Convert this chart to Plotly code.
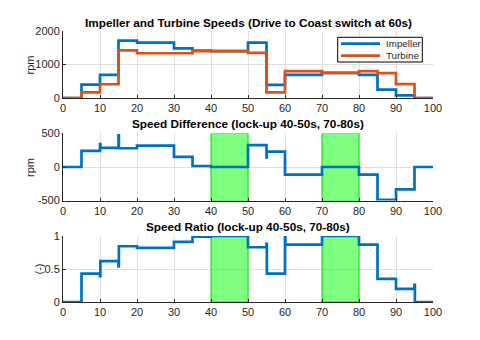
import plotly.graph_objects as go

# Segment boundaries (s) for the speed profiles
t_edges = [0, 5, 10, 15, 20, 30, 35, 40, 50, 55, 60, 70, 80, 85, 90, 95, 100]
# Speed held over each segment (rpm)
impeller_rpm = [0, 400, 690, 1710, 1650, 1480, 1415, 1400, 1650, 390, 690, 750, 690, 250, 80, 0]
turbine_rpm = [0, 170, 410, 1420, 1335, 1335, 1400, 1400, 1345, 170, 800, 750, 800, 740, 415, 0]

# Speed difference (rpm), sampled at each change point
diff_t = [0, 5, 10, 10.1, 15, 15.1, 20, 30, 35, 40, 50, 55, 55.1, 60, 70, 80, 85, 90, 95, 100]
diff_rpm = [0, 240, 340, 285, 475, 280, 320, 150, 15, 0, 325, 145, 228, -115, 0, -115, -490, -335, 0, 0]

# Speed ratio (-), sampled at each change point
ratio_t = [0, 5, 10, 10.1, 15, 15.1, 20, 30, 35, 40, 50, 55, 55.1, 60, 60.1, 70, 80, 85, 90, 95, 95.1, 100]
ratio_val = [0, 0.43, 0.39, 0.62, 0.54, 0.845, 0.82, 0.91, 0.99, 1.0, 0.83, 0.88, 0.43, 1.0, 0.87, 1.0,
             0.87, 0.35, 0.20, 0.26, 0, 0]

# Lock-up windows (s)
lockup = [(40, 50), (70, 80)]

titles = [
    "Impeller and Turbine Speeds (Drive to Coast switch at 60s)",
    "Speed Difference (lock-up 40-50s, 70-80s)",
    "Speed Ratio (lock-up 40-50s, 70-80s)",
]
ylabels = ["rpm", "rpm", "(-)"]
legend_names = ["Impeller", "Turbine"]

BLUE = "#0072BD"
ORANGE = "#D95319"
FONT = "Liberation Sans, Arial, Helvetica, sans-serif"
TXT = "#262626"
LW = 2.7

domains = [[0.7528, 1.0], [0.3745, 0.6218], [0.0, 0.2435]]
yranges = [[0, 2000], [-500, 500], [0, 1]]
yticks = [[0, 1000, 2000], [-500, 0, 500], [0, 0.5, 1]]
ytext = [["0", "1000", "2000"], ["-500", "0", "500"], ["0", "0.5", "1"]]


def held(values):
    return values + [values[-1]]


fig = go.Figure()

# Green lock-up bands on the lower two panels (drawn first so the curves sit on top)
for k in (1, 2):
    lo, hi = yranges[k]
    for a, b in lockup:
        fig.add_trace(go.Scatter(x=[a, b, b, a, a], y=[lo, lo, hi, hi, lo], mode="lines",
                                 fill="toself", fillcolor="rgba(0,255,0,0.5)",
                                 line=dict(color="#00e600", width=1), hoverinfo="skip",
                                 showlegend=False, xaxis="x" + str(k + 1), yaxis="y" + str(k + 1)))

fig.add_trace(go.Scatter(x=t_edges, y=held(impeller_rpm), mode="lines", line_shape="hv",
                         line=dict(color=BLUE, width=LW), name=legend_names[0],
                         showlegend=False, xaxis="x", yaxis="y"))
fig.add_trace(go.Scatter(x=t_edges, y=held(turbine_rpm), mode="lines", line_shape="hv",
                         line=dict(color=ORANGE, width=LW), name=legend_names[1],
                         showlegend=False, xaxis="x", yaxis="y"))
fig.add_trace(go.Scatter(x=diff_t, y=diff_rpm, mode="lines", line_shape="hv",
                         line=dict(color=BLUE, width=LW), showlegend=False, xaxis="x2", yaxis="y2"))
fig.add_trace(go.Scatter(x=ratio_t, y=ratio_val, mode="lines", line_shape="hv",
                         line=dict(color=BLUE, width=LW), showlegend=False, xaxis="x3", yaxis="y3"))

axis_common = dict(showline=True, linecolor=TXT, linewidth=1, ticks="inside", ticklen=3,
                   tickcolor=TXT, showgrid=True, gridcolor="#dfdfdf", gridwidth=1,
                   zeroline=False, tickfont=dict(family=FONT, size=11, color=TXT), mirror=False)

layout = dict(width=480, height=340, margin=dict(l=63, r=47, t=31, b=38),
              paper_bgcolor="white", plot_bgcolor="white",
              font=dict(family=FONT, color=TXT), showlegend=False)

for i in range(3):
    sx = "" if i == 0 else str(i + 1)
    layout["xaxis" + sx] = dict(axis_common, domain=[0, 1], range=[0, 100], anchor="y" + sx,
                                tickvals=list(range(0, 101, 10)))
    layout["yaxis" + sx] = dict(axis_common, domain=domains[i], range=yranges[i], anchor="x" + sx,
                                tickvals=yticks[i], ticktext=ytext[i])

fig.update_layout(**layout)

# Panel titles
title_y = [1.033, 0.657, 0.2786]
for txt, yy in zip(titles, title_y):
    fig.add_annotation(text="<b>" + txt + "</b>", xref="paper", yref="paper", x=0.5, y=yy,
                       xanchor="center", yanchor="middle", showarrow=False,
                       font=dict(family=FONT, size=11.75, color="black"))

# Y-axis labels, centred on each panel
label_x = [-0.0892, -0.0892, -0.0662]
for lab, dom, lx in zip(ylabels, domains, label_x):
    fig.add_annotation(text=lab, xref="paper", yref="paper", x=lx, y=(dom[0] + dom[1]) / 2,
                       xanchor="center", yanchor="middle", textangle=-90, showarrow=False,
                       font=dict(family=FONT, size=11, color=TXT))

# Legend box for the speed panel
fig.add_shape(type="rect", xref="paper", yref="paper", x0=0.7424, x1=0.9711, y0=0.8856, y1=0.9768,
              fillcolor="white", line=dict(color="black", width=1), layer="above")
for name, col, ly in zip(legend_names, [BLUE, ORANGE], [0.9531, 0.9089]):
    fig.add_shape(type="line", xref="paper", yref="paper", x0=0.7514, x1=0.8568, y0=ly, y1=ly,
                  line=dict(color=col, width=LW), layer="above")
    fig.add_annotation(text=name, xref="paper", yref="paper", x=0.8676, y=ly, xanchor="left",
                       yanchor="middle", showarrow=False,
                       font=dict(family=FONT, size=9.8, color=TXT))

fig.write_html("out.html")
